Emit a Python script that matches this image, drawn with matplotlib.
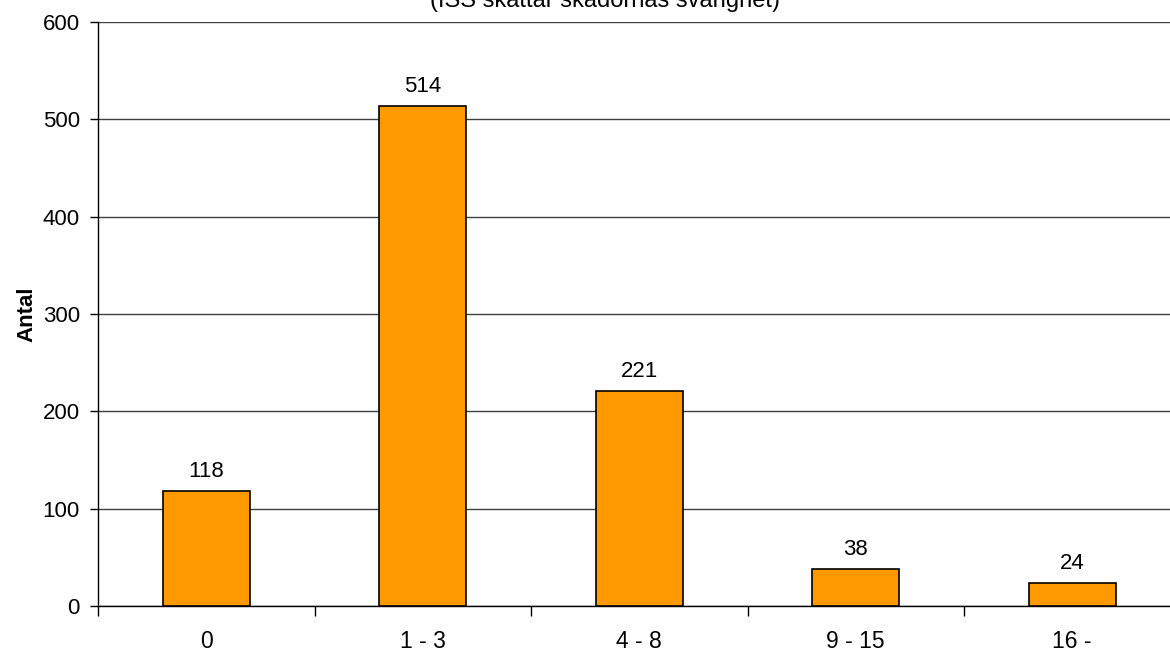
import matplotlib
matplotlib.use("Agg")
import matplotlib.pyplot as plt
import numpy as np

plt.rcParams["font.family"] = ["Liberation Sans", "DejaVu Sans"]

categories = ["0", "1 - 3", "4 - 8", "9 - 15", "16 -"]
counts = [118, 514, 221, 38, 24]
yticks = [0, 100, 200, 300, 400, 500, 600]
title = "(ISS skattar skadornas svårighet)"
ylabel = "Antal"

fig = plt.figure(figsize=(11.7, 6.56), dpi=100)
# axes runs past the right edge, as in the original export
ax = fig.add_axes([98 / 1170, 50 / 656, 1082.5 / 1170, 584 / 656])

x = np.arange(len(categories))
bars = ax.bar(x, counts, width=0.4, color="#FF9900", edgecolor="black", linewidth=1.2, zorder=3)
for b, v in zip(bars, counts):
    ax.annotate(str(v), (b.get_x() + b.get_width() / 2, v), xytext=(0, 10),
                textcoords="offset points", ha="center", va="baseline", fontsize=16)

ax.set_xlim(-0.5, len(categories) - 0.5)
ax.set_ylim(0, 600)
ax.set_yticks(yticks)
ax.set_xticks(np.arange(-0.5, len(categories), 1.0))
ax.set_xticklabels([])
ax.set_xticks(x, minor=True)
ax.set_xticklabels(categories, minor=True)
ax.tick_params(axis="x", which="minor", length=0, labelsize=16.5, pad=17)
ax.tick_params(axis="x", which="major", length=7, width=1)
ax.tick_params(axis="y", length=6, width=1, labelsize=16, pad=7)
ax.yaxis.grid(True, color="#404040", linewidth=1, zorder=0)

for s in ["top", "right"]:
    ax.spines[s].set_visible(False)
ax.spines["left"].set_linewidth(1)
ax.spines["bottom"].set_linewidth(1)

ax.set_ylabel(ylabel, fontsize=16, fontweight="bold", labelpad=4)
fig.text(605 / 1170, 1 - 7 / 656, title, ha="center", va="baseline", fontsize=17)

fig.savefig("out.png", dpi=100)
